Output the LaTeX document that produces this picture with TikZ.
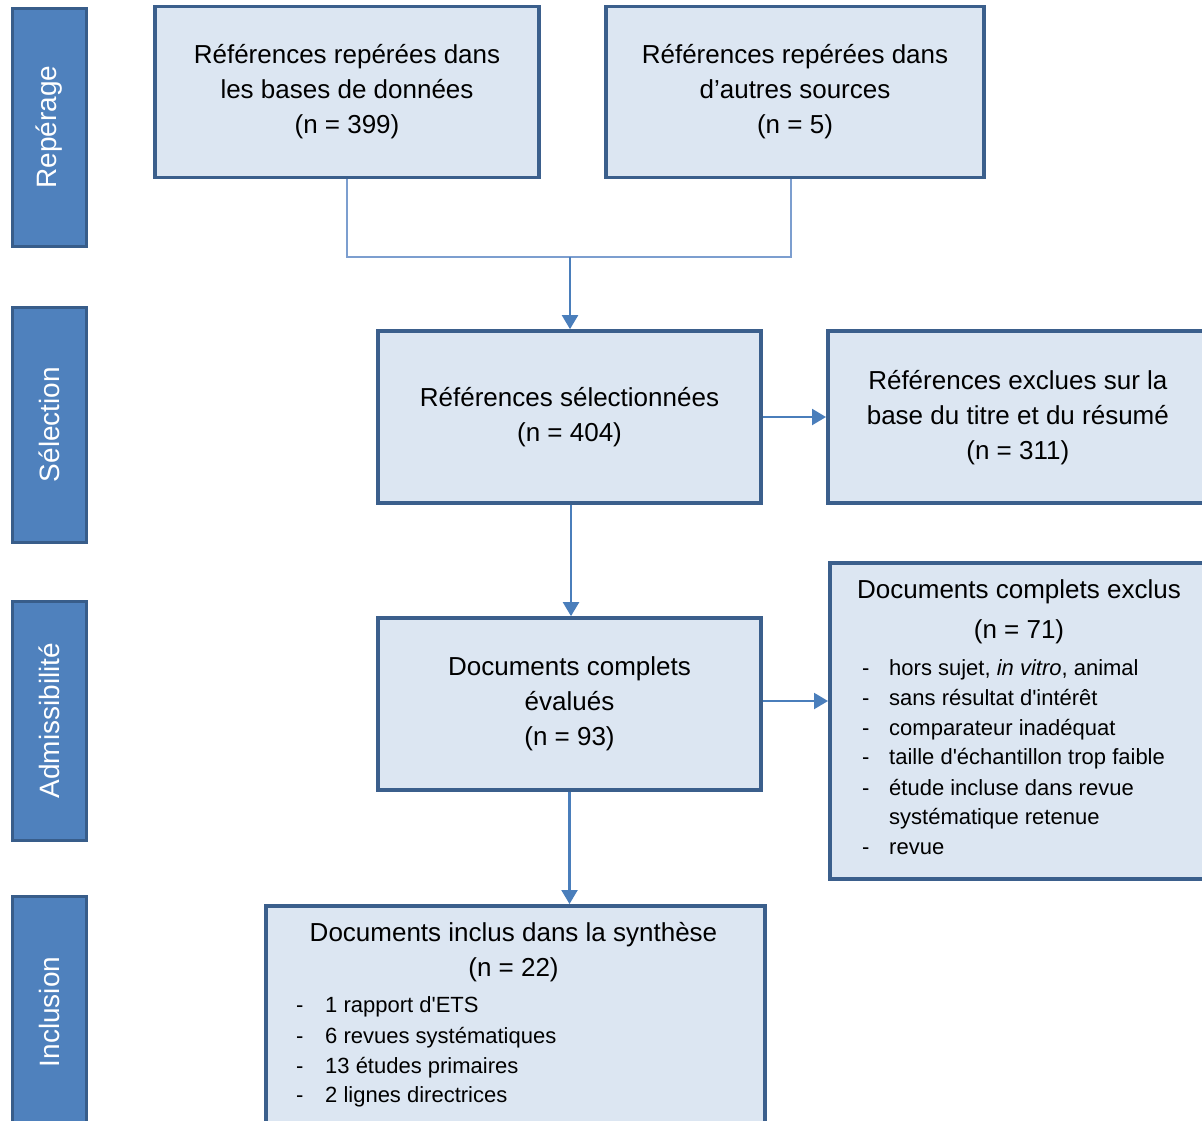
\documentclass[tikz,border=0pt]{standalone}
\usepackage{fontspec}
\setmainfont{Liberation Sans}
\usetikzlibrary{arrows.meta}
\definecolor{boxfill}{HTML}{DCE6F2}
\definecolor{boxline}{HTML}{3B5F8C}
\definecolor{sidefill}{HTML}{4F81BD}
\definecolor{sideline}{HTML}{385D8A}
\definecolor{arrcol}{HTML}{4A7EBB}
\definecolor{thincol}{HTML}{7C9ECF}
\newcommand\sq{{\addfontfeatures{Ligatures=TeXOff}'}}
\tikzset{
  box/.style={draw=boxline, line width=3.7pt, fill=boxfill, rectangle, align=center,
    font=\fontsize{26}{35}\selectfont, inner sep=0pt},
  side/.style={draw=sideline, line width=3pt, fill=sidefill, rectangle, inner sep=0pt,
    minimum width=74pt},
  sidetext/.style={text=white, rotate=90, font=\fontsize{28}{30}\selectfont},
  arr/.style={draw=arrcol, line width=2.2pt, -{Triangle[width=16pt,length=14pt]}},
  thinline/.style={draw=thincol, line width=1.3pt},
  title/.style={font=\fontsize{26}{35}\selectfont, anchor=base},
  item/.style={font=\fontsize{22}{30}\selectfont, anchor=base west, inner sep=0pt},
  dashmark/.style={font=\fontsize{22}{30}\selectfont, anchor=base west, inner sep=0pt}
}
\begin{document}
\begin{tikzpicture}[x=1pt,y=-1pt]
\useasboundingbox (0,0) rectangle (1202,1120);
\fill[white] (0,0) rectangle (1202,1120);

% side bars
\node[side, minimum height=238pt] (s1) at (49,127) {};
\node[sidetext] (t1) at (s1.center) {Repérage};
\node[side, minimum height=235pt] (s2) at (49,424.5) {};
\node[sidetext] (t2) at (s2.center) {Sélection};
\node[side, minimum height=239pt] (s3) at (49,720.5) {};
\node[sidetext] (t3) at (s3.center) {Admissibilité};
\node[side, minimum height=232pt] (s4) at (49,1012) {};
\node[sidetext] (t4) at (s4.center) {Inclusion};

% boxes
\node[box, minimum width=384pt, minimum height=171pt] (b1) at (347,92)
  {Références repérées dans\\les bases de données\\(n = 399)};
\node[box, minimum width=378pt, minimum height=171pt] (b2) at (795,92)
  {Références repérées dans\\d’autres sources\\(n = 5)};
\node[box, minimum width=383pt, minimum height=172pt] (b3) at (569.5,417)
  {Références sélectionnées\\(n = 404)};
\node[box, minimum width=392pt, minimum height=172pt, anchor=west] (b4) at (826,417)
  {\hspace*{-12pt}\begin{tabular}{@{}c@{}}Références exclues sur la\\base du titre et du résumé\\(n = 311)\end{tabular}};
\node[box, minimum width=383pt, minimum height=172pt] (b5) at (569.5,704)
  {Documents complets\\évalués\\(n = 93)};
\node[box, minimum width=390pt, minimum height=316pt, anchor=north west] (b6) at (828,561) {};
\node[box, minimum width=499pt, minimum height=224pt, anchor=north west] (b7) at (264,904) {};

% box 6 content
\node[title] (b6t1) at (1019,598) {Documents complets exclus};
\node[title] (b6t2) at (1019,638) {(n = 71)};
\foreach \y/\txt [count=\i] in {675/{hors sujet, \textit{in vitro}, animal},
  705/{sans résultat d\sq intérêt}, 735/{comparateur inadéquat},
  764/{taille d\sq échantillon trop faible}, 795/{étude incluse dans revue}}{
  \node[dashmark] (b6d\i) at (862,\y) {-};
  \node[item] (b6i\i) at (889,\y) {\txt};
}
\node[item] (b6i6) at (889,824) {systématique retenue};
\node[dashmark] (b6d7) at (862,854) {-};
\node[item] (b6i7) at (889,854) {revue};

% box 7 content
\node[title] (b7t1) at (513.5,941) {Documents inclus dans la synthèse};
\node[title] (b7t2) at (513.5,976) {(n = 22)};
\foreach \y/\txt [count=\i] in {1012/{1 rapport d\sq ETS}, 1043/{6 revues systématiques},
  1073/{13 études primaires}, 1102/{2 lignes directrices}}{
  \node[dashmark] (b7d\i) at (296,\y) {-};
  \node[item] (b7i\i) at (325,\y) {\txt};
}

% connectors
\coordinate (j) at (570,257);
\draw[thinline] (b1.south) -- (b1.south |- j) -- ([xshift=-4pt]b2.south |- j) -- ([xshift=-4pt]b2.south);
\draw[arr] (j) -- (j |- b3.north);
\draw[arr] (b3.east) -- (b3.east -| b4.west);
\draw[arr] ([xshift=1.5pt]b3.south) -- ([xshift=1.5pt]b3.south |- b5.north);
\draw[arr] ([yshift=3pt]b5.east) -- ([yshift=3pt]b5.east -| b6.west);
\draw[arr] (b5.south) -- (b5.south |- b7.north);
\end{tikzpicture}
\end{document}
